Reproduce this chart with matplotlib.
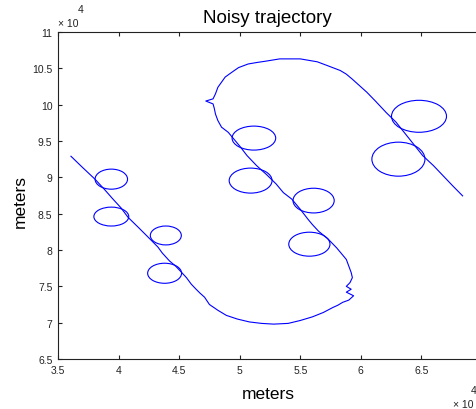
import matplotlib
matplotlib.use("Agg")
import matplotlib.pyplot as plt
from matplotlib.patches import Ellipse
from matplotlib.ticker import FixedLocator, FixedFormatter

plt.rcParams['font.family'] = ['Liberation Sans', 'DejaVu Sans']

# Trajectory (units of 10^4 m)
traj_x = [3.607, 3.70, 3.805, 3.88, 3.954, 4.02, 4.078, 4.17, 4.26, 4.325, 4.36, 4.42,
          4.47, 4.51, 4.56, 4.60, 4.64, 4.67, 4.71, 4.75, 4.82, 4.89, 4.98, 5.08, 5.18,
          5.28, 5.40, 5.50, 5.60, 5.69, 5.77, 5.81, 5.85, 5.90, 5.94, 5.88, 5.92, 5.88,
          5.91, 5.93, 5.92, 5.88, 5.84, 5.80, 5.73, 5.65, 5.60, 5.565, 5.50, 5.43,
          5.36, 5.30, 5.22, 5.14, 5.06, 5.00, 4.95, 4.905, 4.85, 4.82, 4.80, 4.79,
          4.78, 4.72, 4.78, 4.80, 4.82, 4.85, 4.88, 4.93, 4.99, 5.07, 5.14, 5.22,
          5.33, 5.42, 5.50, 5.64, 5.72, 5.83, 5.88, 5.93, 5.99, 6.05, 6.12, 6.21,
          6.29, 6.40, 6.51, 6.60, 6.68, 6.76, 6.84]
traj_y = [9.29, 9.14, 8.975, 8.84, 8.70, 8.58, 8.45, 8.30, 8.15, 8.04, 7.96, 7.85,
          7.78, 7.71, 7.62, 7.53, 7.46, 7.41, 7.35, 7.25, 7.17, 7.10, 7.05, 7.01, 6.99,
          6.98, 6.99, 7.03, 7.08, 7.14, 7.21, 7.24, 7.28, 7.31, 7.37, 7.42, 7.46, 7.50,
          7.55, 7.62, 7.69, 7.87, 7.95, 8.03, 8.15, 8.26, 8.35, 8.42, 8.56, 8.70,
          8.79, 8.91, 9.04, 9.16, 9.30, 9.43, 9.53, 9.62, 9.69, 9.78, 9.87, 9.95,
          10.01, 10.05, 10.08, 10.15, 10.24, 10.31, 10.38, 10.44, 10.51, 10.56, 10.58, 10.60,
          10.63, 10.63, 10.63, 10.59, 10.54, 10.47, 10.42, 10.35, 10.26, 10.17, 10.05, 9.89,
          9.76, 9.53, 9.30, 9.16, 9.02, 8.88, 8.745]

# Small loops: centre x, centre y, half-width, half-height (units of 10^4 m)
loop_cx = [3.94, 3.94, 4.39, 4.38, 5.117, 5.09, 5.61, 5.575, 6.48, 6.31]
loop_cy = [8.975, 8.46, 8.20, 7.68, 9.54, 8.955, 8.68, 8.08, 9.84, 9.25]
loop_rx = [0.134, 0.144, 0.128, 0.14, 0.18, 0.177, 0.17, 0.17, 0.227, 0.219]
loop_ry = [0.138, 0.13, 0.13, 0.138, 0.165, 0.172, 0.17, 0.165, 0.22, 0.234]

x_ticks = [3.5, 4, 4.5, 5, 5.5, 6, 6.5, 7]
x_labels = ['3.5', '4', '4.5', '5', '5.5', '6', '6.5', '']
y_ticks = [6.5, 7, 7.5, 8, 8.5, 9, 9.5, 10, 10.5, 11]
y_labels = ['6.5', '7', '7.5', '8', '8.5', '9', '9.5', '10', '10.5', '11']

W, H = 477, 410
fig = plt.figure(figsize=(W / 100, H / 100), dpi=100)
ax = fig.add_axes([58 / W, (H - 360) / H, (482 - 58) / W, (360 - 33) / H])

ax.plot(traj_x, traj_y, color='#0000ff', lw=0.8)
for cx, cy, rx, ry in zip(loop_cx, loop_cy, loop_rx, loop_ry):
    ax.add_patch(Ellipse((cx, cy), 2 * rx, 2 * ry, fill=False,
                         edgecolor='#0000ff', lw=0.8))

ax.set_xlim(3.5, 7)
ax.set_ylim(6.5, 11)
ax.xaxis.set_major_locator(FixedLocator(x_ticks))
ax.xaxis.set_major_formatter(FixedFormatter(x_labels))
ax.yaxis.set_major_locator(FixedLocator(y_ticks))
ax.yaxis.set_major_formatter(FixedFormatter(y_labels))
ax.tick_params(direction='in', length=3, width=0.8, top=True, right=True,
               labelsize=7.5, colors='#222222', pad=4)
for s in ax.spines.values():
    s.set_linewidth(0.8)
    s.set_color('#222222')

fig.text(267.5 / W, 1 - 23 / H, 'Noisy trajectory', ha='center', va='baseline',
         fontsize=13.5)
fig.text(268.5 / W, 1 - 395 / H, 'meters', ha='center', va='center', fontsize=12.5)
fig.text(20 / W, 1 - 202 / H, 'meters', ha='center', va='center', rotation=90,
         fontsize=12.5)

# exponent labels
fig.text(58 / W, 1 - 27 / H, '\u00d7 10', ha='left', va='baseline', fontsize=7.5,
         color='#222222')
fig.text(78 / W, 1 - 13 / H, '4', ha='left', va='baseline', fontsize=7.5,
         color='#222222')
fig.text(453 / W, 1 - 408 / H, '\u00d7 10', ha='left', va='baseline', fontsize=7.5,
         color='#222222')
fig.text(471 / W, 1 - 394 / H, '4', ha='left', va='baseline', fontsize=7.5,
         color='#222222')

fig.savefig('out.png', dpi=100)
